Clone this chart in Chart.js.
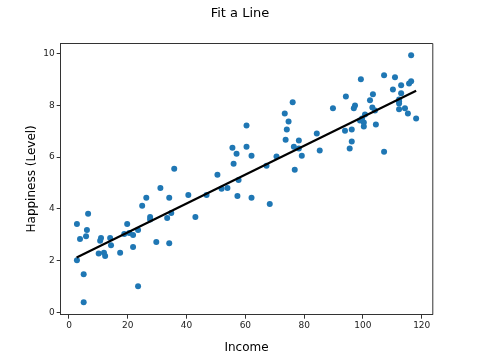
<!DOCTYPE html>
<html>
<head>
<meta charset="utf-8">
<script src="https://cdn.jsdelivr.net/npm/chart.js@4/dist/chart.umd.min.js"></script>
<style>
html,body{margin:0;padding:0;background:#fff;}
canvas{display:block;}
</style>
</head>
<body>
<canvas id="c" width="480" height="360"></canvas>
<script>
const incomeValues = [35.8,2.7,6.5,6.1,3.75,5.8,2.7,5.0,5.0,10.9,10.6,10.1,11.9,12.3,14.0,14.3,17.4,19.8,18.8,20.5,21.8,21.8,23.5,23.5,24.9,26.3,27.6,27.6,29.7,31.1,34.1,33.4,34.8,34.1,40.6,43.0,
76.1,73.4,74.7,74.1,73.7,60.4,55.6,57.0,60.4,62.1,56.0,50.5,67.2,70.6,78.2,76.5,78.2,79.2,76.8,84.3,85.3,
46.8,51.9,53.9,57.7,57.3,62.1,68.3,
116.4,107.2,110.9,99.3,113.0,115.7,116.4,110.2,113.0,94.2,103.4,102.4,112.3,112.3,112.3,89.8,97.3,96.9,103.2,104.1,112.3,114.3,115.3,118.1,100.7,99.7,99.0,100.3,100.3,104.4,93.9,96.2,96.2,95.5,107.2];
const happinessValues = [5.55,3.42,3.81,3.19,2.84,2.95,2.02,1.48,0.40,2.88,2.77,2.28,2.31,2.18,2.88,2.60,2.31,3.42,3.03,3.07,2.99,2.53,3.19,1.02,4.12,4.43,3.69,3.59,2.72,4.81,4.43,3.65,3.84,2.68,4.54,3.69,
8.11,7.68,7.37,7.06,6.67,7.22,6.36,6.13,6.40,6.05,5.74,5.32,5.67,6.02,6.64,6.40,6.33,6.05,5.51,6.91,6.25,
4.54,4.78,4.81,5.12,4.50,4.43,4.19,
9.93,9.16,9.08,9.00,8.77,8.84,8.92,8.61,8.46,8.34,8.42,8.19,8.22,8.14,8.07,7.88,7.99,7.88,7.91,7.80,7.84,7.88,7.68,7.49,7.64,7.49,7.41,7.33,7.18,7.26,7.02,7.06,6.60,6.33,6.21];
const fitIncome = [2.6, 118.1];
const fitHappiness = [2.13, 8.56];
const xTickValues = [0,20,40,60,80,100,120];
const yTickValues = [0,2,4,6,8,10];
const chartTitle = 'Fit a Line';
const xTitle = 'Income';
const yTitle = 'Happiness (Level)';

const points = incomeValues.map((x,i)=>({x:x, y:happinessValues[i]}));
const fitPoints = fitIncome.map((x,i)=>({x:x, y:fitHappiness[i]}));
const FONT = "'DejaVu Sans', sans-serif";

const boxPlugin = {
  id:'box',
  afterDraw(chart){
    const {ctx, chartArea:a} = chart;
    ctx.save();
    ctx.strokeStyle = '#333';
    ctx.lineWidth = 1;
    ctx.beginPath();
    ctx.moveTo(a.left, a.top+0.5);
    ctx.lineTo(a.right+0.5, a.top+0.5);
    ctx.lineTo(a.right+0.5, a.bottom);
    ctx.stroke();
    ctx.fillStyle = '#000';
    ctx.font = "13px " + FONT;
    ctx.textAlign = 'center';
    ctx.textBaseline = 'middle';
    ctx.fillText(chartTitle, 240, 14);
    ctx.restore();
  }
};

new Chart(document.getElementById('c'), {
  type:'scatter',
  data:{
    datasets:[
      {type:'line', data:fitPoints, borderColor:'#000', borderWidth:2.2, pointRadius:0, fill:false, showLine:true},
      {data:points, backgroundColor:'#1f77b4', borderColor:'#1f77b4', borderWidth:0, pointRadius:3, pointHoverRadius:3}
    ]
  },
  options:{
    responsive:false,
    animation:false,
    devicePixelRatio:1,
    events:[],
    layout:{padding:{left:0, top:43, right:47.7, bottom:0}},
    plugins:{legend:{display:false}, tooltip:{enabled:false}, title:{display:false}},
    scales:{
      x:{
        type:'linear', min:-2.82, max:123.6,
        afterBuildTicks(s){ s.ticks = xTickValues.map(v=>({value:v})); },
        afterFit(s){ s.height = 45.3; },
        grid:{drawOnChartArea:false, drawTicks:true, tickLength:4, color:'#333'},
        border:{display:true, color:'#333', width:1},
        ticks:{color:'#222', font:{family:FONT, size:9}, padding:2, maxRotation:0, autoSkip:false},
        title:{display:true, text:xTitle, color:'#000', font:{family:FONT, size:12}, padding:{top:0, bottom:4.8}}
      },
      y:{
        type:'linear', min:-0.08, max:10.4,
        afterBuildTicks(s){ s.ticks = yTickValues.map(v=>({value:v})); },
        afterFit(s){ s.width = 60.7; },
        grid:{drawOnChartArea:false, drawTicks:true, tickLength:4, color:'#333'},
        border:{display:true, color:'#333', width:1},
        ticks:{color:'#222', font:{family:FONT, size:9}, padding:2, autoSkip:false},
        title:{display:true, text:yTitle, color:'#000', font:{family:FONT, size:12}, padding:{top:24.5, bottom:0}}
      }
    }
  },
  plugins:[boxPlugin]
});
</script>
</body>
</html>
